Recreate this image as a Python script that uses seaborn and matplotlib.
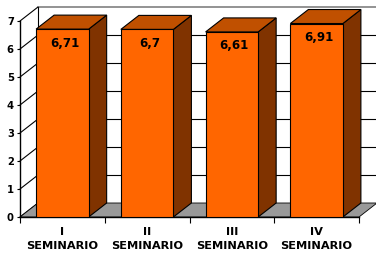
import matplotlib
matplotlib.use("Agg")
import matplotlib.pyplot as plt
import seaborn as sns
from matplotlib.patches import Polygon

# data
categories = ["I\nSEMINARIO", "II\nSEMINARIO", "III\nSEMINARIO", "IV\nSEMINARIO"]
values = [6.71, 6.7, 6.61, 6.91]
value_labels = ["6,71", "6,7", "6,61", "6,91"]
y_ticks = [0, 1, 2, 3, 4, 5, 6, 7]

sns.set_theme(style="white")
plt.rcParams["font.family"] = ["DejaVu Sans"]

fig = plt.figure(figsize=(3.76, 2.56), dpi=100)
ax = fig.add_axes([20 / 376, 39 / 256, 339 / 376, 196 / 256])

sns.barplot(x=categories, y=values, color="#FF6600", saturation=1, width=0.62,
            edgecolor="black", linewidth=0.8, ax=ax, zorder=5)
ax.set_xlim(-0.5, 3.5)
ax.set_ylim(0, 7)

# fake 3d depth (18px right, 14px up)
dx = 18 / (339 / 4)
dy = 0.5

# back wall + gridlines
ax.add_patch(Polygon([(-0.5 + dx, dy), (3.5 + dx, dy), (3.5 + dx, 7 + dy), (-0.5 + dx, 7 + dy)],
                     closed=True, facecolor="white", edgecolor="none", clip_on=False, zorder=0))
for k in y_ticks[1:]:
    col = "#808080" if k == 7 else "black"
    ax.plot([-0.5 + dx, 3.5 + dx + 0.3], [k + dy, k + dy], color=col,
            lw=1.2 if k == 7 else 0.8, clip_on=False, zorder=1)
ax.plot([-0.5 + dx, -0.5 + dx], [dy, 7 + dy], color="black", lw=0.8, clip_on=False, zorder=1)

# left wall diagonals
for k in y_ticks:
    ax.plot([-0.5, -0.5 + dx], [k, k + dy], color="black", lw=0.8, clip_on=False, zorder=1)

# floor
ax.add_patch(Polygon([(-0.5, 0), (3.5, 0), (3.5 + dx, dy), (-0.5 + dx, dy)], closed=True,
                     facecolor="#999999", edgecolor="black", lw=0.6, clip_on=False, zorder=2))

# side and top faces of the bars
for p, lab in zip(ax.patches[:len(values)], value_labels):
    x0 = p.get_x()
    x1 = x0 + p.get_width()
    h = p.get_height()
    ax.add_patch(Polygon([(x1, 0), (x1 + dx, dy), (x1 + dx, h + dy), (x1, h)], closed=True,
                         facecolor="#803300", edgecolor="black", lw=0.8, clip_on=False, zorder=4))
    ax.add_patch(Polygon([(x0, h), (x1, h), (x1 + dx, h + dy), (x0 + dx, h + dy)], closed=True,
                         facecolor="#C05000", edgecolor="black", lw=0.8, clip_on=False, zorder=4))
    ax.text((x0 + x1) / 2 + 0.03, h - 0.5, lab, ha="center", va="center",
            fontsize=8.6, fontweight="bold", color="black", zorder=6)

for s in ["top", "right"]:
    ax.spines[s].set_visible(False)
for s in ["left", "bottom"]:
    ax.spines[s].set_color("black")
    ax.spines[s].set_linewidth(1.0)
    ax.spines[s].set_zorder(3)

ax.set_yticks(y_ticks)
ax.set_yticklabels([str(t) for t in y_ticks], fontweight="bold", fontsize=7.2)
ax.tick_params(axis="y", left=True, direction="out", length=2.5, width=0.8,
               color="black", pad=2, labelcolor="black")

ax.set_xticks(range(len(categories)))
ax.set_xticklabels(categories, fontweight="bold", fontsize=8.2, linespacing=1.4)
ax.tick_params(axis="x", which="major", length=0, pad=7.5, labelcolor="black")
ax.set_xticks([-0.5, 0.5, 1.5, 2.5, 3.5], minor=True)
ax.tick_params(axis="x", which="minor", bottom=True, direction="out", length=4,
               width=0.8, color="black")
ax.set_xlabel("")
ax.set_ylabel("")
ax.grid(False)

fig.savefig("out.png", dpi=100)
